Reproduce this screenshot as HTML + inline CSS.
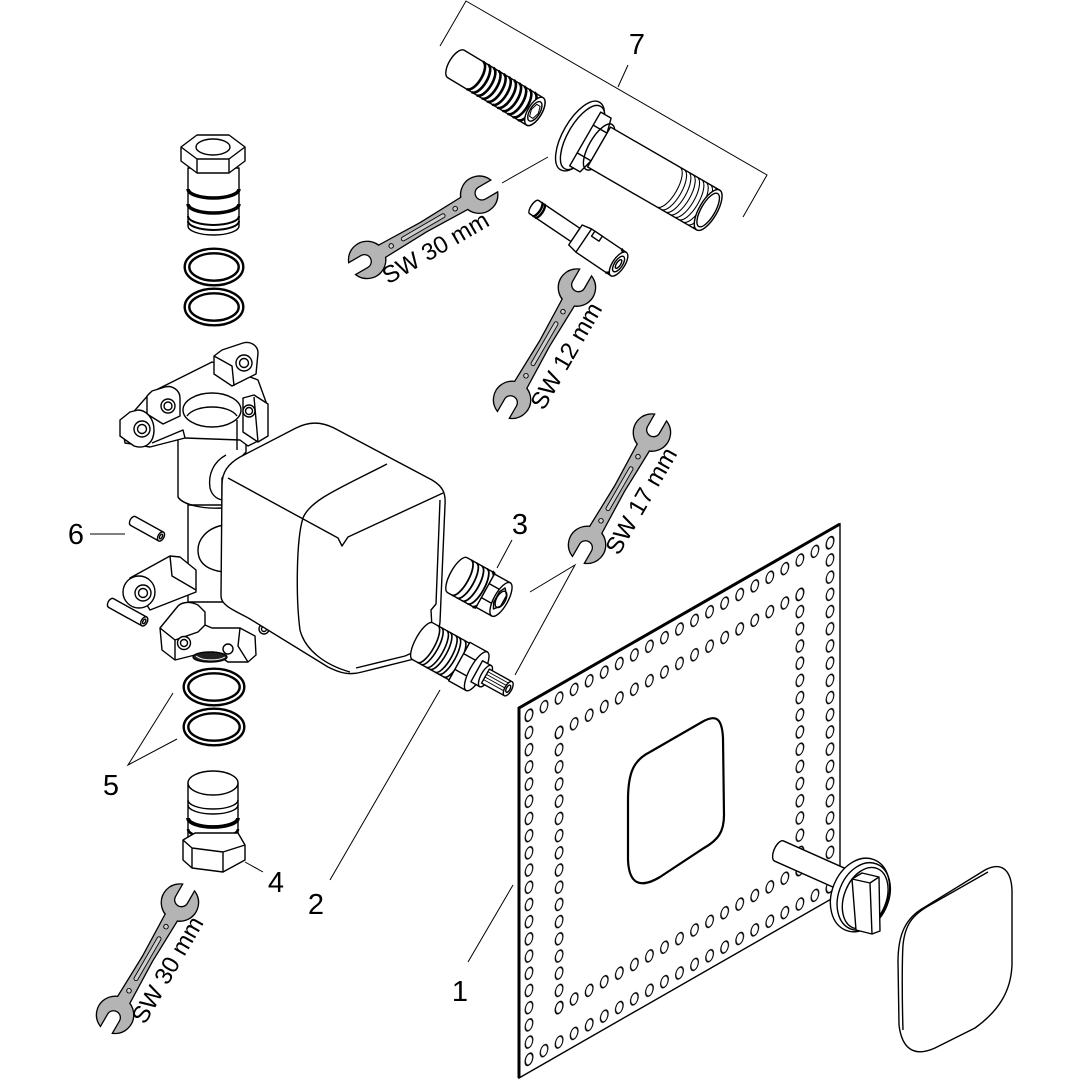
<!DOCTYPE html>
<html><head><meta charset="utf-8"><style>
html,body{margin:0;padding:0;background:#fff;}
svg{display:block;}
text{font-family:"Liberation Sans",Arial,sans-serif;fill:#000;stroke:none;}
</style></head><body>
<svg width="1080" height="1080" viewBox="0 0 1080 1080" xmlns="http://www.w3.org/2000/svg">
<defs>
<pattern id="holes" patternUnits="userSpaceOnUse" x="2.475" y="4.4" width="15.05" height="17.2">
<ellipse cx="7.525" cy="8.6" rx="3.8" ry="5.6" fill="#fff" stroke="#000" stroke-width="1.3"/>
</pattern>
<g id="wr">
<path d="M13,-6.5 L65,-5 L117,-6.5 L117,6.5 L65,5 L13,6.5 Z"/>
<path d="M-16.2,-7.5 L-3,-7.5 A7.5 7.5 0 0 1 -3,7.5 L-16.2,7.5 A18 18 0 1 0 -16.2,-7.5 Z"/>
<path d="M146.2,-7.5 L133,-7.5 A7.5 7.5 0 0 0 133,7.5 L146.2,7.5 A18 18 0 1 1 146.2,-7.5 Z"/>
</g>
<g id="wrench">
<use href="#wr" fill="none" stroke="#000" stroke-width="2.6"/>
<use href="#wr" fill="#b4b4b4" stroke="none"/>
<rect x="40" y="-2" width="50" height="4" rx="2" fill="#cfcfcf" stroke="#000" stroke-width="0.9"/>
<circle cx="28" cy="0" r="2.3" fill="#cfcfcf" stroke="#000" stroke-width="0.9"/>
<circle cx="102" cy="0" r="2.3" fill="#cfcfcf" stroke="#000" stroke-width="0.9"/>
</g>
</defs>

<!-- ===== Plate 1 ===== -->
<g transform="matrix(1 -0.5732 0 1 519 708)">
<rect x="0" y="0" width="321" height="370" fill="#fff" stroke="#000" stroke-width="1.4" vector-effect="non-scaling-stroke"/>
<rect x="2.475" y="4.4" width="316.05" height="17.2" fill="url(#holes)"/>
<rect x="2.475" y="348.4" width="316.05" height="17.2" fill="url(#holes)"/>
<rect x="2.475" y="4.4" width="15.05" height="361.2" fill="url(#holes)"/>
<rect x="303.475" y="4.4" width="15.05" height="361.2" fill="url(#holes)"/>
<rect x="32.575" y="38.8" width="255.85" height="17.2" fill="url(#holes)"/>
<rect x="32.575" y="314" width="255.85" height="17.2" fill="url(#holes)"/>
<rect x="32.575" y="38.8" width="15.05" height="292.4" fill="url(#holes)"/>
<rect x="273.375" y="38.8" width="15.05" height="292.4" fill="url(#holes)"/>
<path d="M0,370 L0,0 L321,0" fill="none" stroke="#000" stroke-width="3" vector-effect="non-scaling-stroke"/>
</g>
<path d="M628,800 C628,772 634,760 650,752 L702,722 C716,714 722,718 723,738 L724,815 C724,832 718,840 704,848 L660,877 C640,889 629,884 628,860 Z" fill="#fff" stroke="#000" stroke-width="2.2"/>

<g fill="#fff" stroke="#000" stroke-width="1.4" stroke-linejoin="round">
<!-- knob shaft -->
<g transform="translate(779,851) rotate(24)">
<path d="M0,-11 L78,-11 L78,11 L0,11 A5 11 0 0 1 0,-11 Z"/>
</g>
<!-- knob -->
<g transform="rotate(22 860 895)">
<ellipse cx="860" cy="895" rx="28" ry="38"/>
<ellipse cx="864" cy="895" rx="25" ry="35" fill="none"/>
<ellipse cx="866" cy="896" rx="21" ry="32" fill="none"/>
</g>
<path d="M852,879 L862,873 L879,877 L880,931 L872,934 L856,930 Z"/>
<path d="M852,879 L870,883 L879,877 M870,883 L872,934" fill="none"/>
<!-- cover -->
<path d="M898,962 C898,935 905,918 925,907 L985,870 C1000,862 1011,868 1012,890 L1012,965 C1011,990 1000,1010 975,1028 L935,1048 C915,1057 902,1050 899,1025 Z"/>
<path d="M903,1030 C902,1000 902,960 903,945 C905,925 912,915 930,905 L988,872" fill="none"/>
</g>

<!-- ===== Valve body ===== -->
<g fill="#fff" stroke="#000" stroke-width="1.4" stroke-linejoin="round">
<!-- pin 6 upper -->
<g transform="translate(133,521) rotate(29)">
<path d="M0,-5 L32,-5 L32,5 L0,5 A3 5 0 0 1 0,-5 Z"/>
<ellipse cx="32" cy="0" rx="3" ry="5"/><ellipse cx="32" cy="0" rx="1.3" ry="2.5"/>
</g>
<!-- upper pipe -->
<path d="M178,418 L178,497 C183,505 203,509 222,508 L222,478 L246,452 L246,418 Z"/>
<!-- flange -->
<path d="M122,425 L150,393 L212,362 L258,380 L266,402 L264,438 L248,446 L240,440 L185,438 L150,447 L125,443 Z"/>
<path d="M152,443 L183,430 L185,438" fill="none"/>
<ellipse cx="212" cy="410" rx="29" ry="17"/>
<path d="M187,416 C195,404 229,404 237,416" fill="none"/>
<path d="M237,420 L237,450" fill="none"/>
<!-- lugs -->
<path d="M214,356 L214,374 L232,386 L256,374 L258,353 C258,345 250,341 243,343 L222,350 Z"/>
<path d="M214,356 L232,366 L234,386" fill="none"/>
<circle cx="244" cy="363" r="8"/><circle cx="244" cy="363" r="4.5"/>
<path d="M147,396 L147,414 L163,424 L180,416 L180,398 C180,390 172,385 165,387 L152,391 Z"/>
<circle cx="168" cy="406" r="7"/><circle cx="168" cy="406" r="4"/>
<path d="M120,420 L120,436 L134,446 C146,450 154,442 154,430 C154,418 146,410 138,410 L130,412 Z"/>
<circle cx="142" cy="429" r="8"/><circle cx="142" cy="429" r="4.5"/>
<path d="M243,398 L243,432 L258,442 L268,436 L268,404 L254,395 Z"/>
<path d="M254,397 L258,442" fill="none"/>
<circle cx="249" cy="411" r="6"/><circle cx="249" cy="411" r="3.5"/>
<!-- lower pipe -->
<path d="M188,505 L188,602 L226,602 L226,505 Z"/>
<path d="M178,497 C183,505 203,509 222,508" fill="none"/>
<path d="M224,525 C206,528 198,540 198,550 C198,562 206,570 224,572" fill="none"/>
<path d="M226,455 C213,462 208,475 210,488 C212,496 218,500 224,500" fill="none"/>
<!-- arm -->
<path d="M130,578 L170,556 L180,557 L196,570 L196,592 L150,610 Z"/>
<path d="M170,556 L172,576 L196,590" fill="none"/>
<circle cx="139" cy="592" r="16"/>
<circle cx="143" cy="593" r="8"/><circle cx="143" cy="593" r="4.5"/>
<!-- pin 6 lower -->
<g transform="translate(111,603) rotate(29)">
<path d="M0,-5 L38,-5 L38,5 L0,5 A3 5 0 0 1 0,-5 Z"/>
<ellipse cx="38" cy="0" rx="3" ry="5"/><ellipse cx="38" cy="0" rx="1.3" ry="2.5"/>
</g>
<!-- bottom bracket -->
<path d="M160,628 L178,606 C182,602 190,601 198,605 L205,612 L205,625 L212,628 L240,628 L255,636 L256,655 L248,662 L228,662 L213,652 L195,655 L175,660 L162,650 Z"/>
<path d="M160,628 L175,640 L175,660 M205,625 L198,632 L175,640 M240,628 L238,646 L248,662" fill="none"/>
<circle cx="184" cy="643" r="6.5"/><circle cx="184" cy="643" r="3.5"/>
<circle cx="228" cy="649" r="5"/>
<ellipse cx="210" cy="657" rx="17" ry="5" fill="#222"/>
<path d="M196,656 C202,661 218,661 225,657" stroke="#fff" fill="none" stroke-width="1"/>
<circle cx="264" cy="629" r="5"/><circle cx="264" cy="629" r="2.5"/>
<!-- box / cap -->
<path d="M221,596 L222,485 C222,472 228,464 240,457 L296,428 C308,422 320,421 334,428 L432,480 C442,486 446,492 445,505 L440,622 C438,640 430,652 414,659 L362,672 C348,676 338,672 328,667 L250,619 C236,611 221,606 221,596 Z"/>
<path d="M228,478 L338,538 L342,546 L348,537 L443,493" fill="none"/>
<path d="M387,464 C340,488 310,500 303,518 C296,540 296,600 300,630 C305,650 325,665 350,672" fill="none"/>
<path d="M440,500 L436,604 L431,610 L432,628 C430,642 420,650 405,656 L356,668" fill="none"/>
</g>

<!-- ===== Cartridge 2 ===== -->
<g fill="#fff" stroke="#000" stroke-width="1.4" stroke-linejoin="round" transform="translate(433,647) rotate(29)">
<path d="M-12,-21 L30,-21 L30,21 L-12,21 A7 21 0 0 1 -12,-21 Z"/>
<path d="M-6,-21 A7 21 0 0 1 -6,21 M-2,-21 A7 21 0 0 1 -2,21 M4,-21 A7 21 0 0 1 4,21 M8,-21 A7 21 0 0 1 8,21 M14,-21 A7 21 0 0 1 14,21 M18,-21 A7 21 0 0 1 18,21 M24,-21 A7 21 0 0 1 24,21" fill="none" stroke-width="1.6"/>
<path d="M30,-22 L50,-22 L50,22 L30,22 Z"/>
<path d="M30,-9 L50,-9 M30,9 L50,9" fill="none"/>
<ellipse cx="50" cy="0" rx="7" ry="22"/>
<path d="M50,-12 L60,-12 L60,12 L50,12 Z"/>
<ellipse cx="60" cy="0" rx="4.5" ry="12"/>
<path d="M60,-8 L86,-8 L86,8 L60,8 Z"/>
<path d="M60,-5 L86,-5 M60,-2 L86,-2 M60,1 L86,1 M60,4 L86,4" fill="none" stroke-width="0.9"/>
<ellipse cx="86" cy="0" rx="3.5" ry="8"/>
<ellipse cx="86" cy="0" rx="1.8" ry="4"/>
</g>

<!-- ===== Plug 3 ===== -->
<g fill="#fff" stroke="#000" stroke-width="1.4" stroke-linejoin="round" transform="translate(466,580) rotate(29)">
<path d="M-10,-20 L22,-20 L22,20 L-10,20 A7 20 0 0 1 -10,-20 Z"/>
<path d="M-5,-20 A7 20 0 0 1 -5,20 M1,-20 A7 20 0 0 1 1,20 M7,-20 A7 20 0 0 1 7,20 M13,-20 A7 20 0 0 1 13,20" fill="none" stroke-width="1.8"/>
<path d="M19,-20 A7 20 0 0 1 19,20" fill="none" stroke-width="3"/>
<path d="M22,-19 L40,-19 L40,19 L22,19 Z"/>
<path d="M22,-8 L40,-8 M22,8 L40,8" fill="none"/>
<ellipse cx="40" cy="0" rx="7" ry="19"/>
<path d="M38,-12 L43,-6 L43,6 L38,12 L35,6 L35,-6 Z" fill="none"/>
<ellipse cx="40" cy="0" rx="4.5" ry="9" fill="none"/>
</g>

<!-- ===== Part 7 ===== -->
<g fill="#fff" stroke="#000" stroke-width="1.4" stroke-linejoin="round">
<g transform="translate(456,64) rotate(31)">
<path d="M0,-16 L92,-16 A7 16 0 0 1 92,16 L0,16 A7 16 0 0 1 0,-16 Z"/>
<path d="M22,-16 A7 16 0 0 1 22,16 M28,-16 A7 16 0 0 1 28,16 M34,-16 A7 16 0 0 1 34,16 M40,-16 A7 16 0 0 1 40,16 M46,-16 A7 16 0 0 1 46,16 M52,-16 A7 16 0 0 1 52,16 M58,-16 A7 16 0 0 1 58,16 M64,-16 A7 16 0 0 1 64,16 M70,-16 A7 16 0 0 1 70,16 M76,-16 A7 16 0 0 1 76,16 M82,-16 A7 16 0 0 1 82,16" fill="none" stroke-width="2.6"/>
<ellipse cx="92" cy="0" rx="7" ry="16"/>
<ellipse cx="92" cy="0" rx="5" ry="11"/>
<path d="M90,-7 L94,-7 L96,0 L94,7 L90,7 L88,0 Z" fill="none" stroke-width="1"/>
</g>
<g transform="translate(580,136) rotate(30)">
<ellipse cx="0" cy="0" rx="17" ry="39"/>
<ellipse cx="3" cy="0" rx="15" ry="36" fill="none"/>
<path d="M6,-31 L18,-31 L22,-16 L22,16 L18,31 L6,31 Z"/>
<path d="M6,-16 L22,-16 M6,16 L22,16" fill="none"/>
<ellipse cx="22" cy="0" rx="10" ry="26" fill="none"/>
<path d="M22,-23 L148,-23 L148,23 L22,23 Z"/>
<path d="M102,-23 A9 23 0 0 1 102,23 M107,-23 A9 23 0 0 1 107,23 M112,-23 A9 23 0 0 1 112,23 M117,-23 A9 23 0 0 1 117,23 M122,-23 A9 23 0 0 1 122,23 M127,-23 A9 23 0 0 1 127,23 M132,-23 A9 23 0 0 1 132,23 M137,-23 A9 23 0 0 1 137,23 M142,-23 A9 23 0 0 1 142,23" fill="none" stroke-width="1.1"/>
<ellipse cx="148" cy="0" rx="9" ry="23"/>
<ellipse cx="148" cy="0" rx="7" ry="19"/>
</g>
<g transform="translate(534,207) rotate(34)">
<path d="M0,-8 L50,-8 L50,8 L0,8 A3 8 0 0 1 0,-8 Z"/>
<path d="M4,-8 A3 8 0 0 1 4,8 M7,-8 A3 8 0 0 1 7,8" fill="none" stroke-width="2.4"/>
<path d="M50,-12 L60,-14 L102,-14 L102,14 L60,14 L50,12 Z"/>
<path d="M60,-14 L60,14" fill="none"/>
<rect x="64" y="-14" width="9" height="6" fill="#fff"/>
<path d="M96,-14 A6 14 0 0 1 96,14" fill="none" stroke-width="2.6"/>
<ellipse cx="102" cy="0" rx="6" ry="14"/>
<ellipse cx="102" cy="0" rx="4" ry="9"/>
<ellipse cx="102" cy="0" rx="2" ry="5"/>
</g>
</g>

<!-- ===== Top fitting & rings ===== -->
<g fill="#fff" stroke="#000" stroke-width="1.4" stroke-linejoin="round">
<path d="M188,168 L188,226 A25.5 9 0 0 0 239,226 L239,168 Z"/>
<path d="M188,189 A25.5 9 0 0 0 239,189 M188,204 A25.5 9 0 0 0 239,204" fill="none" stroke-width="3.5"/>
<path d="M188,216 A25.5 9 0 0 0 239,216 M188,221 A25.5 9 0 0 0 239,221" fill="none" stroke-width="2"/>
<path d="M181,147 L197,135 L229,135 L245,147 L245,161 L229,173 L197,173 L181,161 Z"/>
<path d="M181,147 L197,159 L229,159 L245,147 M197,159 L197,173 M229,159 L229,173" fill="none"/>
<ellipse cx="213" cy="147" rx="17" ry="8"/>
</g>
<g fill="none">
<ellipse cx="214" cy="267" rx="27" ry="16" stroke="#000" stroke-width="7"/>
<ellipse cx="214" cy="267" rx="27" ry="16" stroke="#fff" stroke-width="2.2"/>
<ellipse cx="214" cy="307" rx="27" ry="16" stroke="#000" stroke-width="7"/>
<ellipse cx="214" cy="307" rx="27" ry="16" stroke="#fff" stroke-width="2.2"/>
<ellipse cx="214" cy="687" rx="28" ry="16" stroke="#000" stroke-width="7"/>
<ellipse cx="214" cy="687" rx="28" ry="16" stroke="#fff" stroke-width="2.2"/>
<ellipse cx="214" cy="727" rx="28" ry="16" stroke="#000" stroke-width="7"/>
<ellipse cx="214" cy="727" rx="28" ry="16" stroke="#fff" stroke-width="2.2"/>
</g>

<!-- ===== Plug 4 ===== -->
<g fill="#fff" stroke="#000" stroke-width="1.4" stroke-linejoin="round">
<path d="M188,783 L188,842 L238,842 L238,783 Z"/>
<ellipse cx="213" cy="783" rx="25" ry="12"/>
<path d="M188,800 A25 9 0 0 0 238,800 M188,805 A25 9 0 0 0 238,805" fill="none"/>
<path d="M188,818 A25 9 0 0 0 238,818" fill="none" stroke-width="3.8"/>
<path d="M188,829 A25 9 0 0 0 238,829" fill="none" stroke-width="2.6"/>
<path d="M183,840 L195,833 L238,833 L245,845 L245,860 L223,872 L192,868 L183,860 Z"/>
<path d="M183,840 L192,848 L223,852 L245,845 M192,848 L192,868 M223,852 L223,872" fill="none"/>
</g>

<!-- ===== Wrenches ===== -->
<g transform="translate(367,260) rotate(-30.2)"><use href="#wrench"/><text x="6" y="32" font-size="24">SW 30 mm</text></g>
<g transform="translate(512,400) rotate(-60)"><use href="#wrench"/><text x="6" y="33" font-size="24">SW 12 mm</text></g>
<g transform="translate(587,545) rotate(-60)"><use href="#wrench"/><text x="6" y="33" font-size="24">SW 17 mm</text></g>
<g transform="translate(115,1015) rotate(-60)"><use href="#wrench"/><text x="6" y="31" font-size="24">SW 30 mm</text></g>

<!-- ===== Leader lines ===== -->
<g fill="none" stroke="#000" stroke-width="1">
<path d="M440,46 L466,1 L767,175 L743,217"/>
<path d="M618,87 L628,65"/>
<path d="M90,534 L125,534"/>
<path d="M512,540 L497,568"/>
<path d="M530,592 L575,565 L515,675"/>
<path d="M440,690 L330,880"/>
<path d="M513,885 L468,962"/>
<path d="M173,693 L128,765 L177,739"/>
<path d="M245,862 L263,872"/>
<path d="M502,183 L548,157"/>
</g>

<!-- ===== Labels ===== -->
<g font-size="29" text-anchor="middle">
<text x="637" y="54">7</text>
<text x="76" y="544">6</text>
<text x="520" y="534">3</text>
<text x="111" y="795">5</text>
<text x="276" y="892">4</text>
<text x="316" y="914">2</text>
<text x="460" y="1001">1</text>
</g>
</svg>
</body></html>
